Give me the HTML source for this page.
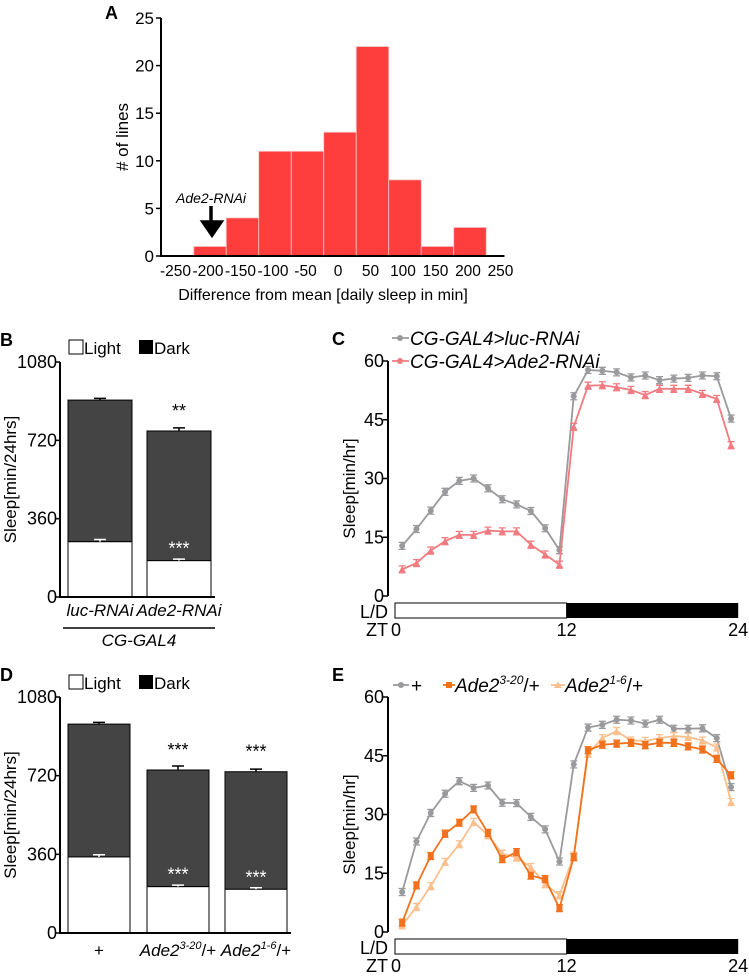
<!DOCTYPE html>
<html><head><meta charset="utf-8"><style>
body{margin:0;background:#fff}
svg{display:block;font-family:"Liberation Sans",Arial,sans-serif}
</style></head><body>
<svg id="fig" width="749" height="976" viewBox="0 0 749 976" xmlns="http://www.w3.org/2000/svg">
<g id="pA"></g>
<g id="pB"></g>
<g id="pC"></g>
<g id="pD"></g>
<g id="pE"></g>
</svg>
<script>
// Panel A histogram data
const histBins=[-250,-200,-150,-100,-50,0,50,100,150,200,250];
const histCounts=[0,1,4,11,11,13,22,8,1,3,0];
const histXTicks=[-250,-200,-150,-100,-50,0,50,100,150,200,250];
const histYTicks=[0,5,10,15,20,25];
// Panel B
const barBCats=["luc-RNAi","Ade2-RNAi"];
const barBTotal=[905,763];
const barBLight=[254,167];
const barBTotalErr=[8,14];
const barBLightErr=[10,7];
// Panel D
const barDCats=["+","Ade2|3-20|/+","Ade2|1-6|/+"];
const barDTotals=[956,746,738];
const barDLight=[348,212,200];
const barDTotalErr=[8,18,12];
const barDLightErr=[10,7,7];
const barYTicks=[0,360,720,1080];
// Panel C
const hours=[0.5,1.5,2.5,3.5,4.5,5.5,6.5,7.5,8.5,9.5,10.5,11.5,12.5,13.5,14.5,15.5,16.5,17.5,18.5,19.5,20.5,21.5,22.5,23.5];
const cLuc=[12.8,17.1,21.8,26.6,29.4,30,27.5,24.7,23.4,21.7,17.3,11.7,51,57.7,57.5,57.1,55.8,56.3,55.1,55.5,55.7,56.3,56.1,45.3];
const cAde2=[6.8,8.4,11.6,14,15.6,15.6,16.7,16.5,16.5,13.1,10.6,8,43.2,53.7,53.8,53.3,52.6,51.3,52.9,52.9,52.9,51.6,50.3,38.5];
// Panel E
const eWT=[10.2,23.1,30.4,35.3,38.5,36.8,37.4,33,32.9,29.4,26.2,18,42.8,52.2,52.9,54.2,54,53.2,54.2,51.9,51.9,52,49.5,37];
const e320=[2.4,11.9,19.4,25.1,27.9,31.3,25.3,18.6,20.4,14.4,13.5,6.1,19.1,46.4,47.8,48.1,48.3,47.7,48.3,48.3,47.4,46.6,44.2,40];
const e16=[1.7,6.4,11.7,17.9,22.4,28.1,24.7,20,19,16.6,12.2,9.4,19.5,45.5,49.5,51.3,48.9,48.8,49.5,50,49.8,48.9,47.1,33.2];
const lineYTicks=[0,15,30,45,60];
const ztTicks=[0,12,24];

const NS="http://www.w3.org/2000/svg";
function mk(parent,tag,attrs,text){const e=document.createElementNS(NS,tag);for(const k in attrs)e.setAttribute(k,attrs[k]);if(text!==undefined)e.textContent=text;parent.appendChild(e);return e;}

// ---------- Panel A ----------
(function(){
const g=document.getElementById('pA');
const xA=v=>340+v*0.65, yA=v=>256-v*9.52;
let t=mk(g,'text',{x:105,y:19,'font-size':18,'font-weight':'bold'},'A');


histCounts.forEach((c,i)=>{if(c<=0)return;
 const r=mk(g,'rect',{x:xA(histBins[i]-25),y:yA(c),width:xA(25)-xA(-25),height:yA(0)-yA(c),fill:'#fe3d3d',stroke:'#f5c6c6','stroke-width':0.8});
 
 
});
let ax=mk(g,'path',{d:`M161,${yA(25)}V${yA(0)}H${xA(250)+2}`,stroke:'#000','stroke-width':2,fill:'none'});


histYTicks.forEach(v=>{mk(g,'line',{x1:156,x2:161,y1:yA(v),y2:yA(v),stroke:'#000','stroke-width':1.5});
 const l=mk(g,'text',{x:154,y:yA(v)+6,'font-size':17,'text-anchor':'end'},v);
 
 });
histXTicks.forEach(v=>{const l=mk(g,'text',{x:xA(v)-2,y:yA(0)+20,'font-size':15.5,'text-anchor':'middle'},v);
 
 });
t=mk(g,'text',{x:323,y:300,'font-size':16,'text-anchor':'middle'},'Difference from mean [daily sleep in min]');


t=mk(g,'text',{x:0,y:0,'font-size':17,'text-anchor':'middle',transform:'translate(128,137) rotate(-90)'},'# of lines');


t=mk(g,'text',{x:211,y:203,'font-size':14,'font-style':'italic','text-anchor':'middle'},'Ade2-RNAi');


t=mk(g,'path',{d:'M211,206V224M203,222L212,235L221,222Z',stroke:'#000','stroke-width':3.5,fill:'#000'});


})();

// ---------- Stacked bar panels ----------
function barPanel(gid,letter,top,y0,cats,total,light,terr,lerr,xs,w,stars){
 const g=document.getElementById(gid);
 const sc=(y0-top)/1080, Y=v=>y0-v*sc;
 let t=mk(g,'text',{x:0,y:top-16,'font-size':18,'font-weight':'bold'},letter);
 
 
 mk(g,'rect',{x:69,y:top-22,width:14,height:14,fill:'#fff',stroke:'#000','stroke-width':1});
 t=mk(g,'text',{x:84,y:top-8,'font-size':17},'Light');
 mk(g,'rect',{x:139,y:top-22,width:14,height:14,fill:'#000'});
 t=mk(g,'text',{x:154,y:top-8,'font-size':17},'Dark');
 cats.forEach((c,i)=>{
  const x=xs[i];
  let r=mk(g,'rect',{x:x,y:Y(total[i]),width:w,height:Y(light[i])-Y(total[i]),fill:'#444',stroke:'#000','stroke-width':1});
  
  r=mk(g,'rect',{x:x,y:Y(light[i]),width:w,height:y0-Y(light[i]),fill:'#fff',stroke:'#000','stroke-width':1});
  
  const cx=x+w/2;
  mk(g,'path',{d:`M${cx-6},${Y(total[i]+terr[i])}H${cx+6}M${cx},${Y(total[i]+terr[i])}V${Y(total[i])}`,stroke:'#000','stroke-width':1.5});
  mk(g,'path',{d:`M${cx-6},${Y(light[i]+lerr[i])}H${cx+6}M${cx},${Y(light[i]+lerr[i])}V${Y(light[i])}`,stroke:'#fff','stroke-width':1.5});
  if(stars[i]){
   t=mk(g,'text',{x:cx,y:Y(total[i])-14,'font-size':18,'text-anchor':'middle'},stars[i][0]);
   t=mk(g,'text',{x:cx,y:Y(light[i])-6,'font-size':18,'text-anchor':'middle',fill:'#fff'},stars[i][1]);
  }
 });
 t=mk(g,'path',{d:`M60,${top}V${y0}H${xs[xs.length-1]+w+4}`,stroke:'#000','stroke-width':2,fill:'none'});
 
 barYTicks.forEach(v=>{mk(g,'line',{x1:55,x2:60,y1:Y(v),y2:Y(v),stroke:'#000','stroke-width':1.5});
  const l=mk(g,'text',{x:57,y:Y(v)+6,'font-size':18,'text-anchor':'end'},v);
  });
 t=mk(g,'text',{x:0,y:0,'font-size':17,'text-anchor':'middle',transform:`translate(16,${(top+y0)/2}) rotate(-90)`},'Sleep[min/24hrs]');
 
 return {g,Y,y0};
}
(function(){
 const p=barPanel('pB','B',362,597,barBCats,barBTotal,barBLight,barBTotalErr,barBLightErr,[68,147],64,[null,['**','***']]);
 barBCats.forEach((c,i)=>{const t=mk(p.g,'text',{x:[100,179][i],y:616,'font-size':17,'font-style':'italic','text-anchor':'middle'},c);
  });
 mk(p.g,'line',{x1:63,x2:215,y1:628,y2:628,stroke:'#000','stroke-width':1.5});
 const t=mk(p.g,'text',{x:139,y:646,'font-size':17,'font-style':'italic','text-anchor':'middle'},'CG-GAL4');
 
})();
(function(){
 const p=barPanel('pD','D',697,933,barDCats,barDTotals,barDLight,barDTotalErr,barDLightErr,[68,147,225],62,[null,['***','***'],['***','***']]);
 const cx=[99,178,256];
 barDCats.forEach((c,i)=>{const parts=c.split('|');
  const t=mk(p.g,'text',{x:cx[i],y:956,'font-size':17,'text-anchor':'middle'});
  
  if(parts.length===1){t.textContent=parts[0];return;}
  mk(t,'tspan',{'font-style':'italic'},parts[0]);
  mk(t,'tspan',{'font-style':'italic','font-size':11,dy:-7},parts[1]);
  mk(t,'tspan',{dy:7},parts[2]);
 });
})();

// ---------- Line panels ----------
function linePanel(gid,letter,top,y0,series,colors,markers,legend){
 const g=document.getElementById(gid);
 const Y=v=>y0-v*(y0-top)/60, X=h=>395+h*14.3;
 let t=mk(g,'text',{x:332,y:top-16,'font-size':18,'font-weight':'bold'},letter);
 
 series.forEach((s,si)=>{
  const sg=mk(g,'g',{});
  
  mk(sg,'polyline',{points:s.map((v,i)=>X(hours[i])+','+Y(v)).join(' '),fill:'none',stroke:colors[si],'stroke-width':1.8});
  s.map((v,i)=>{const x=X(hours[i]),y=Y(v);
   mk(sg,'path',{d:`M${x-3.5},${y-3.5}H${x+3.5}M${x-3.5},${y+3.5}H${x+3.5}M${x},${y-3.5}V${y+3.5}`,stroke:colors[si],'stroke-width':1.3});
   if(markers[si]==='c')mk(sg,'circle',{cx:x,cy:y,r:3,fill:colors[si]});
   else if(markers[si]==='s')mk(sg,'rect',{x:x-3,y:y-3,width:6,height:6,fill:colors[si]});
   else mk(sg,'path',{d:`M${x},${y-3.5}L${x+3.5},${y+3}L${x-3.5},${y+3}Z`,fill:colors[si]});
  });
 });
 t=mk(g,'path',{d:`M388,${top}V${y0}`,stroke:'#000','stroke-width':2,fill:'none'});
 
 lineYTicks.forEach(v=>{mk(g,'line',{x1:383,x2:388,y1:Y(v),y2:Y(v),stroke:'#000','stroke-width':1.5});
  const l=mk(g,'text',{x:384,y:Y(v)+6,'font-size':18,'text-anchor':'end'},v);
  });
 t=mk(g,'text',{x:0,y:0,'font-size':17,'text-anchor':'middle',transform:`translate(355,${(top+y0)/2+10}) rotate(-90)`},'Sleep[min/hr]');
 
 let r=mk(g,'rect',{x:X(0),y:y0+7,width:X(12)-X(0),height:15,fill:'#fff',stroke:'#000','stroke-width':1});
 
 r=mk(g,'rect',{x:X(12),y:y0+7,width:X(24)-X(12),height:15,fill:'#000'});
 
 t=mk(g,'text',{x:388,y:y0+22,'font-size':18,'text-anchor':'end'},'L/D');
 t=mk(g,'text',{x:388,y:y0+40,'font-size':18,'text-anchor':'end'},'ZT');
 ztTicks.forEach(v=>{const l=mk(g,'text',{x:X(v)+(v===0?1:0),y:y0+40,'font-size':18,'text-anchor':'middle'},v);
  });
 legend(g);
}
linePanel('pC','C',361,596,[cLuc,cAde2],['#9a9a9d','#f07b80'],['c','d'],g=>{
 [['CG-GAL4>luc-RNAi','#9a9a9d',338],['CG-GAL4>Ade2-RNAi','#f07b80',361]].forEach((L,i)=>{
  mk(g,'line',{x1:392,x2:409,y1:L[2],y2:L[2],stroke:L[1],'stroke-width':1.8});
  mk(g,'circle',{cx:400,cy:L[2],r:3,fill:L[1]});
  const t=mk(g,'text',{x:410,y:L[2]+7,'font-size':19,'font-style':'italic'},L[0]);
  
 });
});
linePanel('pE','E',697,932,[eWT,e16,e320],['#9a9a9d','#fbc08e','#f2711c'],['c','t','s'],g=>{
 const y=685;
 mk(g,'line',{x1:393,x2:409,y1:y,y2:y,stroke:'#9a9a9d','stroke-width':1.8});mk(g,'circle',{cx:401,cy:y,r:3,fill:'#9a9a9d'});
 let t=mk(g,'text',{x:411,y:y+7,'font-size':19},'+');
 mk(g,'line',{x1:443,x2:455,y1:y,y2:y,stroke:'#f2711c','stroke-width':1.8});mk(g,'rect',{x:446,y:y-3,width:6,height:6,fill:'#f2711c'});
 t=mk(g,'text',{x:455,y:y+7,'font-size':19,'font-style':'italic'});
 mk(t,'tspan',{},'Ade2');mk(t,'tspan',{'font-size':12,dy:-8},'3-20');mk(t,'tspan',{dy:8,'font-style':'normal'},'/+');
 mk(g,'line',{x1:551,x2:565,y1:y,y2:y,stroke:'#fbc08e','stroke-width':1.8});mk(g,'path',{d:`M558,${y-3.5}L562,${y+3}L554,${y+3}Z`,fill:'#fbc08e'});
 t=mk(g,'text',{x:565,y:y+7,'font-size':19,'font-style':'italic'});
 mk(t,'tspan',{},'Ade2');mk(t,'tspan',{'font-size':12,dy:-8},'1-6');mk(t,'tspan',{dy:8,'font-style':'normal'},'/+');
});
</script>
</body></html>
